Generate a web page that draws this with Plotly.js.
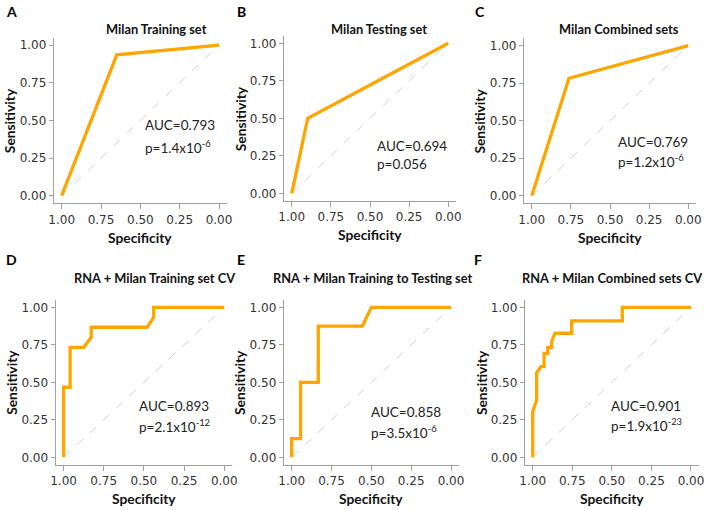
<!DOCTYPE html>
<html>
<head>
<meta charset="utf-8">
<script src="https://cdn.plot.ly/plotly-3.0.1.min.js"></script>
<style>html,body{margin:0;padding:0;background:#fff}#chart{width:709px;height:510px}</style>
</head>
<body>
<div id="chart"></div>
<script>
// ---- data ----
const panelLetters = ['A', 'B', 'C', 'D', 'E', 'F'];
const panelTitles = [
  'Milan Training set',
  'Milan Testing set',
  'Milan Combined sets',
  'RNA + Milan Training set CV',
  'RNA + Milan Training to Testing set',
  'RNA + Milan Combined sets CV'
];
const specA = [1, 0.65, 0];
const sensA = [0, 0.935, 1];
const specB = [1, 0.898, 0];
const sensB = [0, 0.5, 1];
const specC = [1, 0.762, 0];
const sensC = [0, 0.783, 1];
const specD = [1, 1, 0.959, 0.959, 0.874, 0.828, 0.828, 0.48, 0.439, 0.439, 0];
const sensD = [0, 0.467, 0.467, 0.733, 0.733, 0.8, 0.867, 0.867, 0.933, 1, 1];
const specE = [1, 1, 0.944, 0.944, 0.833, 0.833, 0.556, 0.5, 0];
const sensE = [0, 0.125, 0.125, 0.5, 0.5, 0.875, 0.875, 1, 1];
const specF = [1, 1, 0.975, 0.975, 0.949, 0.928, 0.928, 0.905, 0.905, 0.88, 0.88, 0.859, 0.754, 0.754, 0.434, 0.434, 0];
const sensF = [0, 0.304, 0.382, 0.564, 0.604, 0.604, 0.693, 0.693, 0.733, 0.733, 0.771, 0.827, 0.827, 0.909, 0.909, 1, 1];
const aucLabels = ['AUC=0.793', 'AUC=0.694', 'AUC=0.769', 'AUC=0.893', 'AUC=0.858', 'AUC=0.901'];
const pLabels = ['p=1.4x10<sup>-6</sup>', 'p=0.056', 'p=1.2x10<sup>-6</sup>', 'p=2.1x10<sup>-12</sup>', 'p=3.5x10<sup>-6</sup>', 'p=1.9x10<sup>-23</sup>'];
const diagX = [1, 0];
const diagY = [0, 1];
const tickVals = [0, 0.25, 0.5, 0.75, 1];
const tickText = ['0.00', '0.25', '0.50', '0.75', '1.00'];
const xTitle = 'Specificity';
const yTitle = 'Sensitivity';

const specs = [specA, specB, specC, specD, specE, specF];
const senss = [sensA, sensB, sensC, sensD, sensE, sensF];

// ---- layout geometry (pixels) ----
const W = 709, H = 510;
// [left, right, top, bottom] of each plotting area in px
const boxes = [
  [53.8, 226.9, 37.5, 203.2],
  [283.9, 456.1, 35.8, 200.8],
  [523.9, 696.1, 38.2, 203.2],
  [55.5, 232.3, 299.8, 464.8],
  [283.7, 459.0, 299.8, 464.8],
  [524.8, 698.9, 299.8, 464.8]
];
const titlePos = [[156.7, 29], [379.3, 29], [618.8, 29], [154, 278], [372.5, 278], [611.5, 278]];
const letterPos = [[11, 11], [241, 11], [480, 11], [11, 259], [241, 259], [478, 259]];
const statPos = [[0.485, 0.47, 0.325], [0.467, 0.317, 0.195], [0.464, 0.36, 0.23], [0.544, 0.342, 0.212], [0.513, 0.3, 0.17], [0.516, 0.342, 0.215]];

const orange = '#FFA500';
const axisGray = '#a0a0a0';
const tickFont = {family: 'DejaVu Sans', size: 12, color: '#333'};
const panelTitleFont = {family: 'Lato', size: 12.8, color: '#111'};
const axisTitleFont = {family: 'Lato', size: 13.8, color: '#111'};
const statFont = {family: 'Lato', size: 13.5, color: '#222'};

const traces = [];
const layout = {
  width: W, height: H,
  margin: {l: 0, r: 0, t: 0, b: 0},
  paper_bgcolor: '#fff', plot_bgcolor: '#fff',
  showlegend: false,
  annotations: []
};

const px2fx = v => v / W;
const px2fy = v => 1 - v / H;

for (let i = 0; i < 6; i++) {
  const n = i === 0 ? '' : String(i + 1);
  const xa = 'x' + n, ya = 'y' + n;
  traces.push({
    x: diagX, y: diagY, xaxis: xa, yaxis: ya, mode: 'lines',
    line: {color: '#d0d0d0', width: 1, dash: 'dash'}, hoverinfo: 'skip'
  });
  traces.push({
    x: specs[i], y: senss[i], xaxis: xa, yaxis: ya, mode: 'lines',
    line: {color: orange, width: 3.3}
  });
  const b = boxes[i];
  layout['xaxis' + n] = {
    domain: [px2fx(b[0]), px2fx(b[1])], anchor: ya,
    range: [1.05, -0.05], showline: true, linecolor: axisGray, linewidth: 1,
    ticks: 'outside', ticklen: 5, tickcolor: axisGray, tickwidth: 1,
    tickvals: tickVals, ticktext: tickText, tickfont: tickFont,
    showgrid: false, zeroline: false, fixedrange: true
  };
  layout['yaxis' + n] = {
    domain: [px2fy(b[3]), px2fy(b[2])], anchor: xa,
    range: [-0.05, 1.05], showline: true, linecolor: axisGray, linewidth: 1,
    ticks: 'outside', ticklen: 4, tickcolor: axisGray, tickwidth: 1,
    tickvals: tickVals, ticktext: tickText, tickfont: tickFont,
    showgrid: false, zeroline: false, fixedrange: true
  };
  // panel title
  layout.annotations.push({
    xref: 'paper', yref: 'paper', x: px2fx(titlePos[i][0]), y: px2fy(titlePos[i][1]),
    xanchor: 'center', yanchor: 'middle', showarrow: false,
    text: '<b>' + panelTitles[i] + '</b>', font: panelTitleFont
  });
  // panel letter
  layout.annotations.push({
    xref: 'paper', yref: 'paper', x: px2fx(letterPos[i][0]), y: px2fy(letterPos[i][1]),
    xanchor: 'center', yanchor: 'middle', showarrow: false,
    text: '<b>' + panelLetters[i] + '</b>', font: {family: 'Lato', size: 14, color: '#000'}
  });
  // axis titles
  layout.annotations.push({
    xref: 'paper', yref: 'paper', x: px2fx((b[0] + b[1]) / 2), y: px2fy(b[3] + 34),
    xanchor: 'center', yanchor: 'middle', showarrow: false,
    text: '<b>' + xTitle + '</b>', font: axisTitleFont
  });
  layout.annotations.push({
    xref: 'paper', yref: 'paper', x: px2fx(b[0] - 44), y: px2fy((b[2] + b[3]) / 2),
    xanchor: 'center', yanchor: 'middle', showarrow: false, textangle: -90,
    text: '<b>' + yTitle + '</b>', font: axisTitleFont
  });
  // stats
  layout.annotations.push({
    xref: xa, yref: ya, x: statPos[i][0], y: statPos[i][1],
    xanchor: 'left', yanchor: 'middle', showarrow: false,
    text: aucLabels[i], font: statFont
  });
  layout.annotations.push({
    xref: xa, yref: ya, x: statPos[i][0], y: statPos[i][2],
    xanchor: 'left', yanchor: 'middle', showarrow: false,
    text: pLabels[i], font: statFont
  });
}

Plotly.newPlot('chart', traces, layout, {staticPlot: true, displayModeBar: false});
</script>
</body>
</html>
